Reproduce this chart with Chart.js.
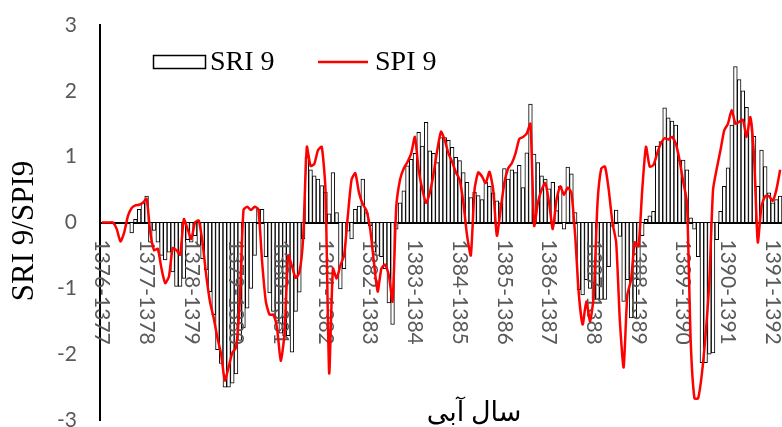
<!DOCTYPE html>
<html><head><meta charset="utf-8">
<script src="https://cdn.jsdelivr.net/npm/chart.js@4"></script>
<style>
html,body{margin:0;padding:0;background:#fff;overflow:hidden;}
#wrap{position:relative;width:782px;height:427px;overflow:hidden;background:#fff;}
#c{position:absolute;left:0;top:0;}
</style></head><body>
<div id="wrap"><canvas id="c" width="782" height="440" style="width:782px;height:440px"></canvas></div>
<script>
const yearLabels = ['1376-1377','1377-1378','1378-1379','1379-1380','1380-1381','1381-1382','1382-1383','1383-1384','1384-1385','1385-1386','1386-1387','1387-1388','1388-1389','1389-1390','1390-1391','1391-1392'];
const sri9 = [
 0,0,0,0,0,0,0,0,-0.16,0.05,0.2,0.3,
 0.4,-0.3,-0.12,-0.3,-0.5,-0.57,-0.45,-0.75,-0.97,-0.97,-0.85,-0.26,
 -0.3,-0.2,-0.35,-0.55,-0.72,-1.05,-1.4,-1.93,-2.14,-2.5,-2.5,-2.44,
 -2.3,-1.79,-1.6,-1.3,-1.0,-0.5,0.2,0.2,-0.52,-1.07,-1.35,-1.5,
 -1.68,-1.72,-1.72,-1.97,-1.35,-1.06,-0.25,0.99,0.8,0.71,0.66,0.56,
 0.46,0.13,0.76,0.15,-1.01,-0.7,-0.13,-0.25,0.2,0.25,0.66,0.15,
 -0.05,-0.45,-0.5,-0.52,-0.7,-1.22,-1.55,-0.1,0.3,0.48,0.86,0.96,
 1.05,1.37,1.16,1.52,1.09,1.05,0.91,1.29,1.29,1.25,1.14,0.99,
 0.94,0.76,0.61,0.38,0.46,0.41,0.35,0.61,0.55,0.45,0.33,0.3,
 0.82,0.66,0.8,0.76,0.87,0.53,1.06,1.8,1.04,0.91,0.71,0.66,
 0.51,0.61,0.18,0.55,-0.1,0.84,0.74,0.15,-1.02,-1.1,-0.87,-1.0,
 -1.17,-1.17,-1.17,-1.17,-0.67,-0.06,0.19,-0.21,-1.2,-0.87,-1.45,-1.45,
 -0.87,-0.2,0.05,0.1,0.17,1.16,1.23,1.74,1.59,1.54,1.48,0.95,
 0.95,0.8,0.07,-0.1,-0.52,-2.13,-2.13,-2.0,-1.98,-0.26,0.17,0.55,
 0.83,1.48,2.37,2.17,2.0,1.75,1.5,1.31,0.55,1.1,0.85,0.45,
 0.3,0.35,0.4
];
const spi9 = [
 0,0,0,0,-0.1,-0.29,-0.15,0.1,0.22,0.26,0.27,0.3,
 0.36,-0.15,-0.42,-0.4,-0.7,-0.92,-0.82,-0.39,-0.42,-0.49,0.05,-0.1,
 -0.25,0.0,0.03,-0.3,-0.8,-1.2,-1.45,-1.75,-2.0,-2.4,-2.2,-1.98,
 -1.9,-1.2,0.19,0.24,0.19,0.24,0.2,-0.6,-1.2,-1.4,-1.4,-1.6,
 -2.1,-1.7,-0.5,-0.66,-0.84,-0.76,-0.25,1.15,0.86,0.89,1.1,1.15,
 0.5,-2.29,-0.7,-0.85,-0.65,-0.5,0.1,0.65,0.75,0.45,0.28,0.18,
 -0.1,-0.6,-1.05,-0.7,-0.64,-0.8,-1.2,0.24,0.65,0.82,0.92,1.05,
 1.3,0.8,0.5,0.3,0.45,0.74,1.1,1.38,1.25,1.05,0.92,0.76,
 0.65,0.3,-0.2,-0.5,0.5,0.76,0.7,0.6,0.77,0.5,-0.2,0.2,
 0.6,0.82,0.9,1.05,1.27,1.3,1.35,1.5,-0.05,0.3,0.5,0.6,
 0.3,-0.1,0.35,0.55,0.42,0.53,0.45,-0.2,-1.1,-1.55,-1.2,-1.5,
 -1.1,0.3,0.82,0.85,0.5,0.0,-0.3,-1.5,-2.2,-1.1,-0.87,-0.3,
 -0.36,0.5,1.15,0.85,0.87,1.05,1.2,1.28,1.26,1.3,1.2,0.95,
 0.62,0.3,-1.8,-2.67,-2.67,-2.3,-1.7,-0.9,0.5,0.82,1.1,1.4,
 1.5,1.71,1.5,1.53,1.56,1.3,1.6,1.0,-0.3,0.25,0.4,0.4,
 0.33,0.5,0.8
];
const yTicks = [-3,-2,-1,0,1,2,3];
const seriesNames = ['SRI 9','SPI 9'];
const yTitle = 'SRI 9/SPI9';
const xTitle = 'سال آبی';

const categories = sri9.map((v,i) => (i % 12 === 0 ? yearLabels[i/12] : '') || ('m' + i));

const xLabelPlugin = {
  id: 'xlabels',
  afterDatasetDraw(chart, args) {
    if (args.index !== 0) return;
    const {ctx, scales: {x, y}} = chart;
    const y0 = y.getPixelForValue(0);
    ctx.save();
    ctx.font = '21px Lato';
    ctx.fillStyle = '#595959';
    ctx.textAlign = 'left';
    ctx.textBaseline = 'middle';
    yearLabels.forEach((lab, k) => {
      const px = x.getPixelForValue(k * 12);
      ctx.save();
      ctx.translate(px, y0 + 17);
      ctx.rotate(Math.PI / 2);
      ctx.fillText(lab, 0, 0);
      ctx.restore();
    });
    ctx.restore();
  }
};

const extrasPlugin = {
  id: 'extras',
  afterDraw(chart) {
    const ctx = chart.ctx;
    ctx.save();
    ctx.fillStyle = '#fff';
    ctx.strokeStyle = '#000';
    ctx.lineWidth = 1.5;
    ctx.fillRect(153.5, 55.5, 52, 13);
    ctx.strokeRect(153.5, 55.5, 52, 13);
    ctx.fillStyle = '#000';
    ctx.font = '28px "Liberation Serif"';
    ctx.textAlign = 'left';
    ctx.textBaseline = 'middle';
    ctx.fillText(seriesNames[0], 210, 63);
    ctx.strokeStyle = '#ff0000';
    ctx.lineWidth = 2.5;
    ctx.beginPath(); ctx.moveTo(318, 62); ctx.lineTo(368, 62); ctx.stroke();
    ctx.fillText(seriesNames[1], 375, 63);
    // x-axis title
    ctx.font = '27px "Liberation Serif", "DejaVu Sans"';
    ctx.textAlign = 'center';
    ctx.textBaseline = 'alphabetic';
    ctx.fillText(xTitle, 474, 421);
    // y-axis title
    ctx.save();
    ctx.translate(25, 231);
    ctx.rotate(-Math.PI / 2);
    ctx.font = '31px "Liberation Serif"';
    ctx.textAlign = 'center';
    ctx.textBaseline = 'middle';
    ctx.fillText(yTitle, 0, 0);
    ctx.restore();
    ctx.restore();
  }
};

new Chart(document.getElementById('c'), {
  data: {
    labels: categories,
    datasets: [
      {
        type: 'bar', label: seriesNames[0], data: sri9,
        backgroundColor: '#ffffff', borderColor: '#000000', borderWidth: 1,
        barPercentage: 1, categoryPercentage: 1, order: 1
      },
      {
        type: 'line', label: seriesNames[1], data: spi9,
        borderColor: '#ff0000', borderWidth: 2.5, pointRadius: 0,
        tension: 0.2, fill: false, order: 0
      }
    ]
  },
  options: {
    responsive: false, animation: false, devicePixelRatio: 1,
    layout: {padding: {top: 25, bottom: 20, left: 0, right: 0}},
    plugins: {legend: {display: false}, tooltip: {enabled: false}},
    scales: {
      x: {
        type: 'category', offset: true, position: {y: 0},
        grid: {display: false, drawTicks: false},
        border: {display: true, color: '#000', width: 2},
        ticks: {display: false}
      },
      y: {
        min: -3, max: 3,
        afterBuildTicks: (s) => { s.ticks = yTicks.map(v => ({value: v})); },
        afterFit: (s) => { s.width = 100; },
        grid: {display: true, drawOnChartArea: false, drawTicks: true, tickLength: 23, color: 'rgba(0,0,0,0)'},
        border: {display: true, color: '#000', width: 2},
        ticks: {color: '#595959', font: {family: 'Lato', size: 21}, padding: 0},
        title: {display: false}
      }
    }
  },
  plugins: [xLabelPlugin, extrasPlugin]
});
</script>
</body></html>
